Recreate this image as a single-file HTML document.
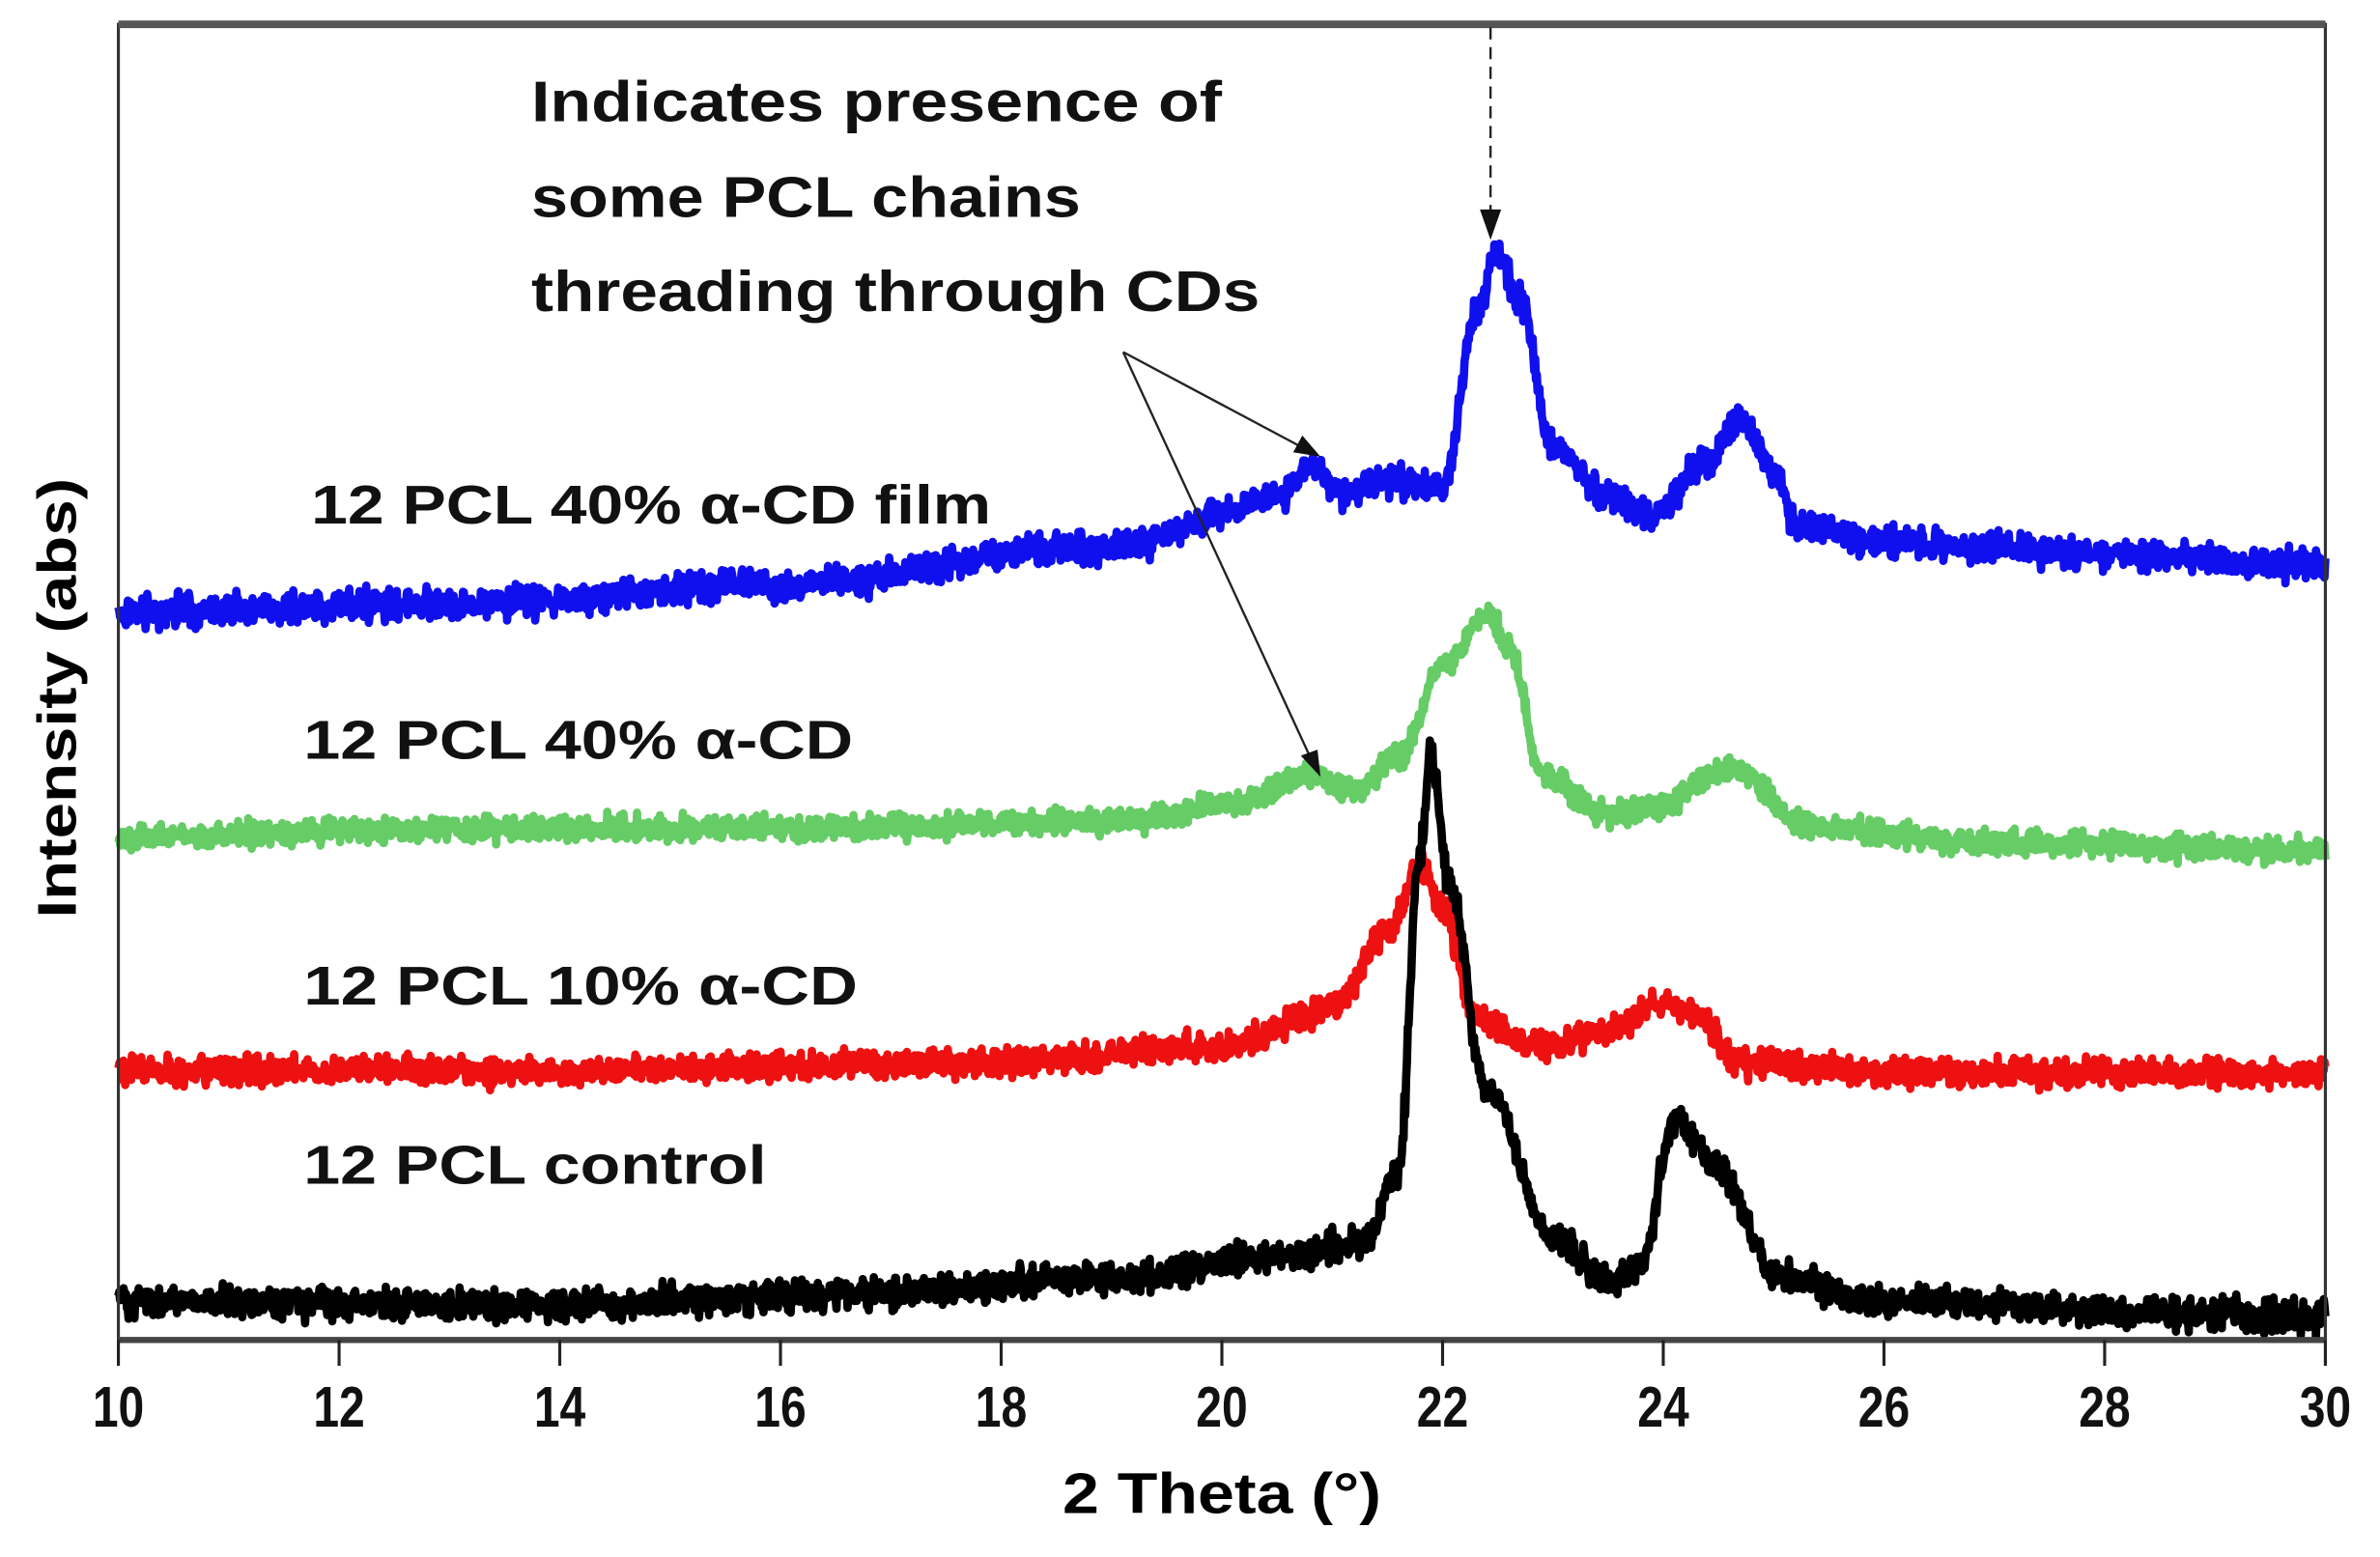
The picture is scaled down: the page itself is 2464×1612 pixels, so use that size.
<!DOCTYPE html>
<html><head><meta charset="utf-8"><style>html,body{margin:0;padding:0;background:#fff}svg{display:block}</style></head>
<body>
<svg id="s" width="2464" height="1612" viewBox="0 0 1568 1026" preserveAspectRatio="none" xmlns="http://www.w3.org/2000/svg" font-family="Liberation Sans, sans-serif" font-weight="bold">
<rect x="0" y="0" width="1568" height="1026" fill="#fff"/>
<g id="curves" fill="none" stroke-width="5.5" stroke-linejoin="round"></g>
<rect x="78" y="16" width="1454" height="867" fill="none" stroke="#333" stroke-width="2"/>
<line x1="78" y1="16" x2="1532" y2="16" stroke="#555" stroke-width="5"/>
<line x1="78" y1="883" x2="1532" y2="883" stroke="#444" stroke-width="4"/>
<g stroke="#222" stroke-width="2" id="ticks"></g>
<g font-size="38" text-anchor="middle" fill="#111" id="tl"></g>
<text x="805" y="997" font-size="38" text-anchor="middle" textLength="210" lengthAdjust="spacingAndGlyphs">2 Theta (°)</text>
<text transform="translate(50,460) rotate(-90)" font-size="36" text-anchor="middle" textLength="290" lengthAdjust="spacingAndGlyphs">Intensity (abs)</text>
<g font-size="38" fill="#111">
<text x="350" y="80" textLength="455" lengthAdjust="spacingAndGlyphs">Indicates presence of</text>
<text x="350" y="143" textLength="362" lengthAdjust="spacingAndGlyphs">some PCL chains</text>
<text x="350" y="205" textLength="480" lengthAdjust="spacingAndGlyphs">threading through CDs</text>
</g>
<g font-size="36" fill="#111">
<text x="205" y="345" textLength="448" lengthAdjust="spacingAndGlyphs">12 PCL 40% α-CD film</text>
<text x="200" y="500" textLength="362" lengthAdjust="spacingAndGlyphs">12 PCL 40% α-CD</text>
<text x="200" y="662" textLength="365" lengthAdjust="spacingAndGlyphs">12 PCL 10% α-CD</text>
<text x="200" y="780" textLength="305" lengthAdjust="spacingAndGlyphs">12 PCL control</text>
</g>
<g stroke="#222" stroke-width="1.5" fill="none">
<line x1="740" y1="232" x2="862" y2="297"/>
<line x1="740" y1="232" x2="866" y2="505"/>
<line x1="982" y1="18" x2="982" y2="140" stroke-dasharray="8,5"/>
</g>
<g fill="#111">
<polygon points="870,301 852,298 858,287"/>
<polygon points="870,512 857,498 868,494"/>
<polygon points="982,158 975,138 989,138"/>
</g>
</svg>
<script>
var X=function(t){return 78+(t-10)*72.7;};
var seed=7;function rnd(){seed=(seed*16807)%2147483647;return seed/2147483647;}
function curve(pts,col,amp){
 var d="";var n=2600;
 for(var i=0;i<=n;i++){var t=10+20*i/n;var k=0;while(k<pts.length-2&&pts[k+1][0]<t)k++;
  var a=pts[k],b=pts[k+1];var f=(t-a[0])/(b[0]-a[0]);f=Math.max(0,Math.min(1,f));
  var y=a[1]+(b[1]-a[1])*(0.5-0.5*Math.cos(Math.PI*f));
  y+=(rnd()+rnd()+rnd()-1.5)*amp;
  d+=(i?"L":"M")+X(t).toFixed(1)+" "+y.toFixed(1);}
 var p=document.createElementNS("http://www.w3.org/2000/svg","path");p.setAttribute("d",d);p.setAttribute("stroke",col);
 document.getElementById("curves").appendChild(p);}
curve([[10,403],[13,398],[16,385],[19,360],[20.5,330],[20.8,305],[21.1,325],[21.5,315],[22,322],[22.3,210],[22.5,165],[22.7,200],[23,295],[23.5,325],[23.9,340],[24.4,305],[24.7,275],[25,310],[25.2,345],[26,358],[28,365],[30,372]],"#1010ee",10);
curve([[10,552],[13,546],[16,546],[19,542],[20.2,528],[20.8,510],[21.2,522],[21.6,500],[22,440],[22.4,405],[22.6,425],[22.9,510],[23.5,537],[24,530],[24.6,505],[25.3,545],[27,555],[30,560]],"#66cc66",8);
curve([[10,705],[14,706],[18,700],[20,690],[21,665],[21.5,615],[21.8,572],[22,600],[22.3,670],[22.8,690],[23.5,680],[24,660],[24.3,668],[24.7,700],[26,707],[30,707]],"#ee1111",9);
curve([[10,858],[14,860],[17,852],[19,842],[20.5,828],[21.3,818],[21.6,770],[21.8,560],[21.9,495],[22.05,580],[22.4,720],[23,815],[23.5,845],[23.8,832],[24.1,738],[24.5,770],[25,840],[26,858],[30,868]],"#000",10);
var tk=document.getElementById("ticks"),tl=document.getElementById("tl");
for(var v=10;v<=30;v+=2){var x=X(v);
 var l=document.createElementNS("http://www.w3.org/2000/svg","line");l.setAttribute("x1",x);l.setAttribute("x2",x);l.setAttribute("y1",883);l.setAttribute("y2",900);tk.appendChild(l);
 var t=document.createElementNS("http://www.w3.org/2000/svg","text");t.setAttribute("x",x);t.setAttribute("y",940);t.setAttribute("textLength",34);t.setAttribute("lengthAdjust","spacingAndGlyphs");t.textContent=v;tl.appendChild(t);}
</script>
</body></html>
